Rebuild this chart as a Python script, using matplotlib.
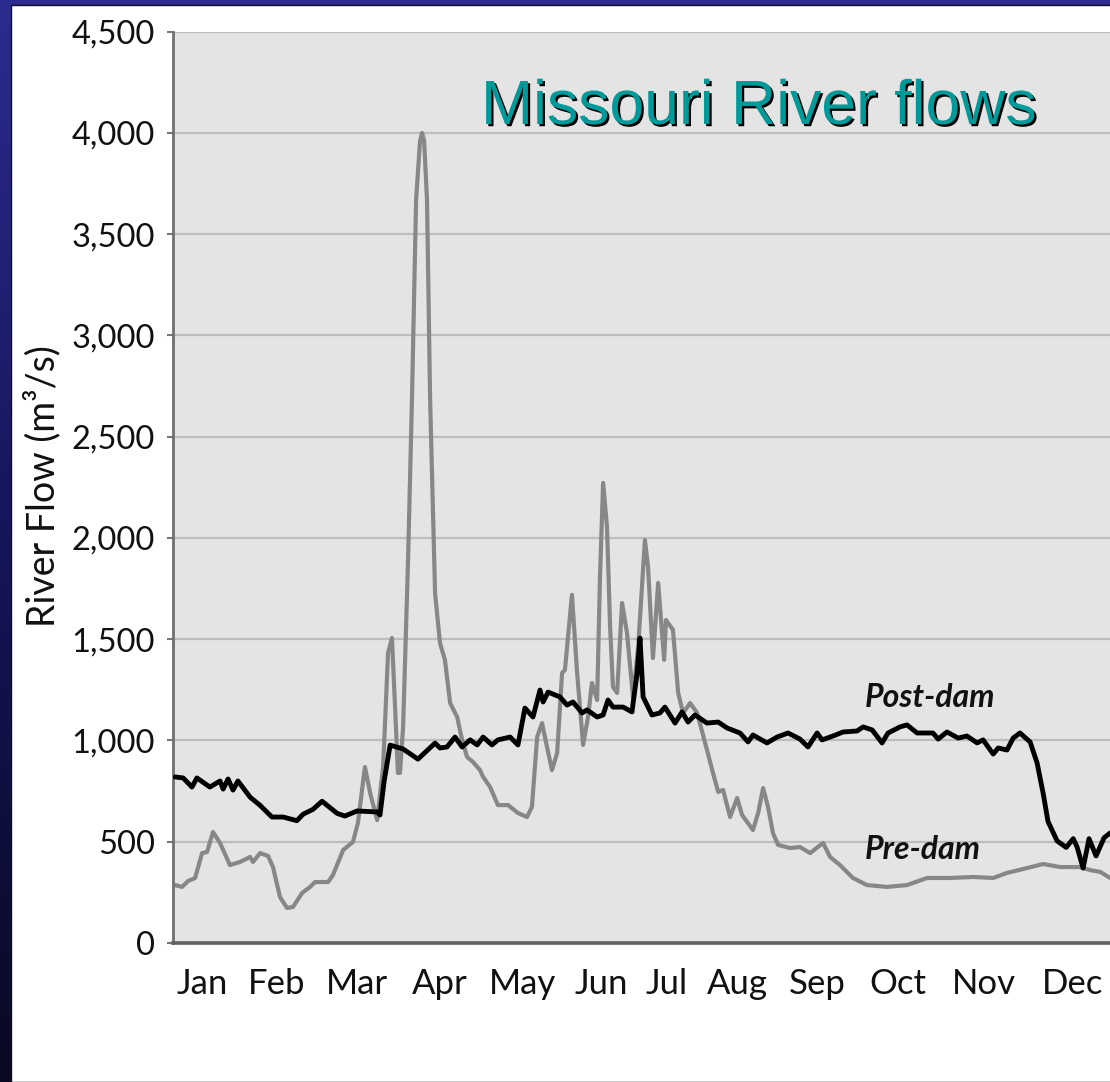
import numpy as np
import matplotlib
matplotlib.use("Agg")
import matplotlib.pyplot as plt
import matplotlib.patheffects as pe
from matplotlib.patches import Rectangle
from matplotlib.colors import LinearSegmentedColormap
from matplotlib.ticker import StrMethodFormatter, FixedLocator

# ---------------- data (day of year, flow m3/s) ----------------
post_day = [0.8, 3.9, 7.3, 9.2, 14.2, 18.1, 19.3, 21.2, 23.1, 25.0, 29.7, 33.5, 38.1, 42.4,
            47.7, 50.1, 53.9, 57.4, 63.2, 66.2, 70.9, 78.6, 79.7, 81.3, 83.6, 88.6, 94.3,
            100.9, 102.8, 105.5, 108.6, 111.3, 114.4, 117.1, 119.4, 122.8, 125.1, 129.8,
            132.8, 135.5, 138.6, 141.3, 142.5, 144.4, 149.0, 151.7, 154.0, 157.5, 159.4,
            163.3, 165.6, 167.5, 169.4, 173.3, 176.7, 178.7, 179.8, 181.0, 184.4, 187.5,
            189.4, 193.3, 196.0, 198.3, 201.0, 205.6, 209.9, 213.3, 218.3, 221.4, 223.3,
            228.7, 232.6, 236.8, 241.4, 244.5, 248.0, 249.9, 254.1, 258.0, 263.4, 265.7,
            269.2, 273.0, 275.3, 279.9, 282.6, 286.5, 292.6, 294.6, 298.0, 302.3, 305.7,
            309.6, 311.9, 315.8, 317.7, 321.1, 323.5, 326.1, 330.0, 332.7, 335.0, 336.9,
            340.4, 343.9, 346.6, 348.1, 350.4, 352.7, 355.4, 358.5, 360.8]
post_flow = [820, 815, 770, 815, 770, 800, 760, 810, 755, 800, 720, 680, 622, 622,
             604, 636, 660, 700, 640, 627, 652, 647, 632, 800, 977, 958, 908,
             987, 963, 968, 1017, 968, 1003, 978, 1017, 978, 1003, 1017,
             978, 1160, 1116, 1249, 1190, 1239, 1215, 1175, 1190, 1136, 1151,
             1116, 1126, 1200, 1165, 1165, 1141, 1333, 1506, 1215, 1126, 1136,
             1165, 1086, 1141, 1091, 1126, 1086, 1091, 1062, 1037, 993, 1027,
             988, 1017, 1037, 1007, 968, 1037, 1003, 1022, 1042, 1047, 1067,
             1052, 988, 1037, 1067, 1077, 1037, 1037, 1007, 1042, 1012, 1022,
             988, 1003, 933, 963, 953, 1012, 1037, 993, 889, 741, 600,
             504, 472, 515, 474, 370, 515, 430, 520, 543]

pre_day = [0.8, 3.5, 5.8, 8.5, 11.2, 13.1, 15.4, 18.1, 21.9, 25.8, 29.7, 30.8, 33.5, 36.6,
           38.5, 41.2, 43.9, 46.2, 49.7, 52.8, 54.7, 59.7, 61.6, 65.5, 69.3, 71.2, 73.9,
           75.9, 78.6, 80.9, 82.8, 84.3, 85.5, 86.6, 87.4, 88.6, 90.5, 92.0, 93.6, 95.1,
           95.9, 96.7, 97.8, 99.0, 100.9, 102.8, 104.7, 106.7, 109.4, 111.3, 113.2, 115.5,
           118.2, 119.4, 122.1, 125.1, 129.0, 132.8, 136.3, 138.2, 140.2, 142.1, 144.0,
           145.9, 147.9, 149.8, 150.9, 153.6, 155.6, 157.9, 159.8, 161.3, 163.3, 164.4,
           165.6, 167.1, 168.3, 169.4, 171.0, 172.9, 174.8, 177.1, 179.1, 181.7, 182.9,
           184.8, 186.8, 188.3, 189.1, 189.8, 192.5, 194.5, 196.4, 199.1, 201.8, 205.6,
           207.9, 209.9, 211.8, 214.5, 217.2, 219.1, 223.3, 225.3, 227.2, 229.1, 231.0,
           233.0, 237.6, 241.4, 245.3, 250.3, 253.0, 256.8, 261.8, 267.2, 274.9, 282.6,
           290.3, 299.2, 308.0, 315.8, 321.1, 328.8, 335.0, 341.6, 349.2, 353.1, 357.0, 360.8]
pre_flow = [286, 277, 306, 321, 444, 449, 548, 494, 385, 400, 425, 400, 444, 430,
            375, 227, 173, 178, 247, 277, 301, 301, 336, 459, 499, 593, 869,
            741, 607, 869, 1432, 1506, 1165, 840, 840, 1067, 1891, 2681, 3669, 3960,
            4000, 3960, 3669, 2681, 1728, 1481, 1398, 1185, 1116, 1003, 919, 894,
            854, 820, 770, 681, 681, 642, 622, 672, 1017, 1086, 968,
            854, 938, 1333, 1348, 1719, 1333, 978, 1116, 1284, 1200, 1807,
            2272, 2054, 1560, 1264, 1235, 1679, 1531, 1215, 1462, 1990, 1857,
            1407, 1778, 1531, 1398, 1595, 1546, 1235, 1136, 1185, 1136, 953,
            840, 746, 756, 622, 716, 632, 558, 642, 765, 672, 543,
            484, 469, 474, 444, 494, 425, 385, 321, 286, 277, 286,
            321, 321, 326, 321, 346, 370, 390, 375, 375, 360, 351, 321]

months = ["Jan", "Feb", "Mar", "Apr", "May", "Jun", "Jul", "Aug", "Sep", "Oct", "Nov", "Dec"]
month_pos = [11.4, 40.0, 70.9, 102.8, 134.4, 164.8, 190.2, 217.2, 248.0, 279.2, 312.3, 346.2]
y_ticks = [0, 500, 1000, 1500, 2000, 2500, 3000, 3500, 4000, 4500]

# ---------------- figure ----------------
W, H = 1110, 1082
fig = plt.figure(figsize=(W / 100, H / 100), dpi=100)
fig.patch.set_facecolor("white")

# blue slide background
bg = fig.add_axes([0, 0, 1, 1], zorder=-10)
cmap = LinearSegmentedColormap.from_list("slide", ["#090922", "#15155a", "#2c2c90"])
grad = np.linspace(0, 1, 256).reshape(-1, 1)
bg.imshow(grad, aspect="auto", cmap=cmap, extent=[0, 1, 0, 1], origin="lower")
bg.add_patch(Rectangle((11 / W, 0), 1, 1 - 5 / H, transform=bg.transAxes,
                       facecolor="white", edgecolor="#101020", lw=1.0))
bg.set_xlim(0, 1)
bg.set_ylim(0, 1)
bg.axis("off")

ax_left, ax_bottom_px, ax_top_px = 173, 943, 31.7
ax = fig.add_axes([ax_left / W, 1 - ax_bottom_px / H, 948 / W, (ax_bottom_px - ax_top_px) / H])
ax.set_facecolor("#e4e4e4")
ax.set_xlim(0, 365)
ax.set_ylim(0, 4500)

ax.yaxis.set_major_locator(FixedLocator(y_ticks))
ax.yaxis.set_major_formatter(StrMethodFormatter("{x:,.0f}"))
ax.grid(axis="y", color="#bdbdbd", lw=1.6, zorder=0)
ax.set_axisbelow(True)

ax.plot(pre_day, pre_flow, color="#878787", lw=3.0, solid_joinstyle="round",
        solid_capstyle="round", zorder=2)
ax.plot(post_day, post_flow, color="black", lw=3.5, solid_joinstyle="round",
        solid_capstyle="round", zorder=3)

ax.set_xticks(month_pos)
ax.set_xticklabels(months)
ax.tick_params(axis="x", length=0, pad=18, labelsize=25, labelcolor="#111111")
ax.tick_params(axis="y", length=4.5, width=1.5, color="#777777", pad=8.5,
               labelsize=23.5, labelcolor="#111111")
for lab in ax.get_xticklabels() + ax.get_yticklabels():
    lab.set_family("Lato")

for s in ["top", "right"]:
    ax.spines[s].set_visible(False)
ax.spines["left"].set_color("#707070")
ax.spines["left"].set_linewidth(2.0)
ax.spines["bottom"].set_color("#606060")
ax.spines["bottom"].set_linewidth(2.6)

ax.text(266.5, 1165, "Post-dam", family="Lato", fontsize=23, fontweight="bold",
        style="italic", color="#111111", va="baseline", ha="left", zorder=4)
ax.text(266.5, 415, "Pre-dam", family="Lato", fontsize=23, fontweight="bold",
        style="italic", color="#111111", va="baseline", ha="left", zorder=4)

fig.text(42 / W, 1 - 486 / H, "River Flow (m³/s)", rotation=90, ha="center", va="center",
         family="Lato", fontsize=27, color="#111111")

fig.text(481 / W, 1 - 124 / H, "Missouri River flows", family="Liberation Sans",
         fontsize=45, color="#009999", ha="left", va="baseline",
         path_effects=[pe.SimplePatchShadow(offset=(1.6, -1.6), shadow_rgbFace="black", alpha=1.0),
                       pe.Normal()])

fig.savefig("out.png", dpi=100)
